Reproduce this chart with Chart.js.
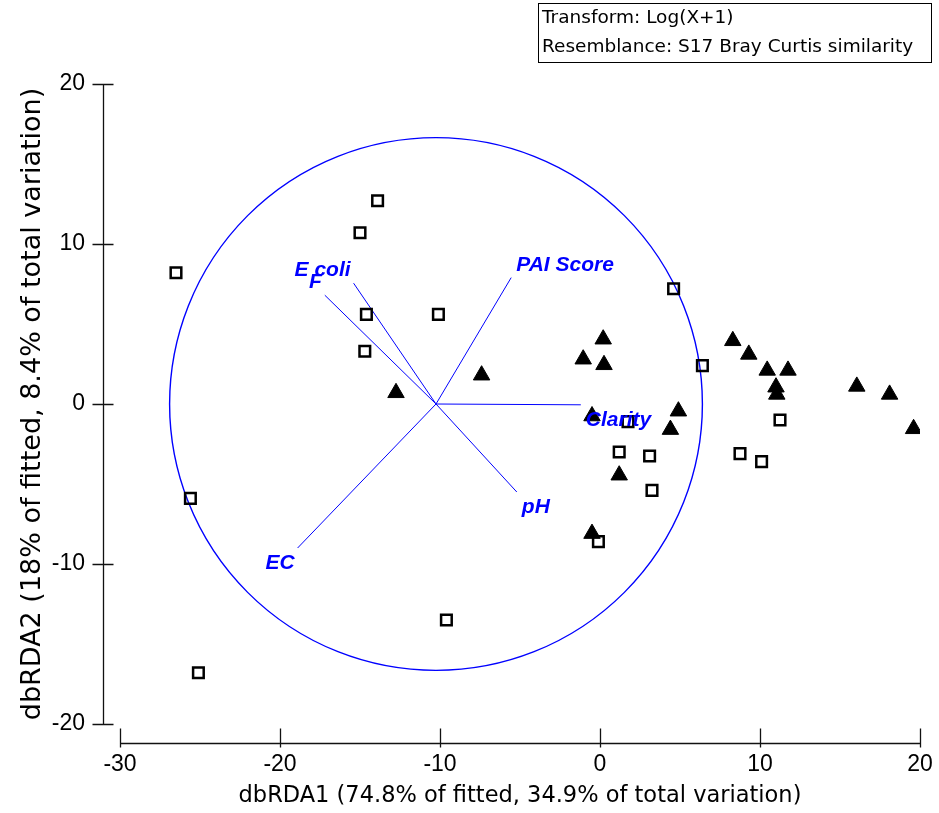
<!DOCTYPE html>
<html>
<head>
<meta charset="utf-8">
<script src="https://cdn.jsdelivr.net/npm/chart.js@4"></script>
<style>
  html, body { margin: 0; padding: 0; background: #fff; }
  #wrap { width: 939px; height: 813px; }
</style>
</head>
<body>
<div id="wrap"><canvas id="myChart" width="939" height="813"></canvas></div>
<script>
"use strict";
// sample scores on dbRDA1 / dbRDA2, open squares
const squareX = [-26.5, -15.0, -13.9, -14.6, -14.7, -10.1, -25.6, -25.1, -9.6, 4.6, 6.4, 1.75, 1.2, 3.1, 3.25, -0.1, 11.25, 8.75, 10.1];
const squareY = [8.2, 10.7, 12.7, 5.6, 3.3, 5.6, -5.9, -16.8, -13.5, 7.2, 2.4, -1.1, -3.0, -3.25, -5.4, -8.6, -1.0, -3.1, -3.6];
// filled triangles
const triangleX = [-12.75, -7.4, -1.05, 0.2, 0.25, -0.5, 4.9, 4.4, 1.2, -0.5, 8.3, 9.3, 10.45, 11.75, 11.0, 11.05, 16.05, 18.1, 19.6];
const triangleY = [0.7, 1.8, 2.8, 4.05, 2.45, -0.75, -0.45, -1.6, -4.45, -8.1, 3.95, 3.1, 2.1, 2.1, 1.05, 0.6, 1.1, 0.6, -1.55];

// predictor vectors
const vectorNames = ["Clarity", "PAI Score", "E coli", "F", "pH", "EC"];
const vectorX = [-1.2, -5.55, -15.4, -17.2, -5.2, -18.9];
const vectorY = [-0.05, 7.9, 7.55, 6.8, -5.5, -9.0];
const vectorOrigin = [-10.25, 0];
const circleRadius = 16.65;

const xTicks = [-30, -20, -10, 0, 10, 20];
const yTicks = [-20, -10, 0, 10, 20];
const xTitle = "dbRDA1 (74.8% of fitted, 34.9% of total variation)";
const yTitle = "dbRDA2 (18% of fitted, 8.4% of total variation)";
const infoLines = ["Transform: Log(X+1)", "Resemblance: S17 Bray Curtis similarity"];

const BLUE = "#0000ff";

function toPoints(xs, ys) {
  return xs.map((v, i) => ({ x: v, y: ys[i] }));
}

const vectorSets = vectorNames.map((name, i) => ({
  label: name,
  data: [{ x: vectorOrigin[0], y: vectorOrigin[1] }, { x: vectorX[i], y: vectorY[i] }],
  showLine: true,
  borderColor: BLUE,
  borderWidth: 1,
  pointRadius: 0
}));

// circle + detached axes + labels
const extras = {
  id: "extras",
  beforeDatasetsDraw(chart) {
    const { ctx, scales } = chart;
    const x = scales.x, y = scales.y;
    const cx = x.getPixelForValue(vectorOrigin[0]);
    const cy = y.getPixelForValue(vectorOrigin[1]);
    const rx = x.getPixelForValue(vectorOrigin[0] + circleRadius) - cx;
    const ry = cy - y.getPixelForValue(vectorOrigin[1] + circleRadius);
    ctx.save();
    ctx.strokeStyle = BLUE;
    ctx.lineWidth = 1.4;
    ctx.beginPath();
    ctx.ellipse(cx, cy, rx, ry, 0, 0, 2 * Math.PI);
    ctx.stroke();
    ctx.restore();
  },
  afterDatasetsDraw(chart) {
    const { ctx, scales } = chart;
    const x = scales.x, y = scales.y;
    ctx.save();
    ctx.fillStyle = BLUE;
    ctx.font = "italic bold 21px 'Liberation Sans', Arial, sans-serif";
    ctx.textBaseline = "alphabetic";
    vectorNames.forEach((name, i) => {
      const dx = vectorX[i] - vectorOrigin[0];
      const dy = vectorY[i] - vectorOrigin[1];
      const px = x.getPixelForValue(vectorX[i]);
      const py = y.getPixelForValue(vectorY[i]);
      ctx.textAlign = dx >= 0 ? "left" : "right";
      ctx.fillText(name, px + (dx >= 0 ? 5 : -3), py + (dy >= 0 ? -7 : 21));
    });
    ctx.restore();
  },
  afterDraw(chart) {
    const { ctx, chartArea, scales } = chart;
    const x = scales.x, y = scales.y;
    const ax = Math.round(chartArea.left - 17) + 0.5;
    const ay = Math.round(chartArea.bottom + 19) + 0.5;
    ctx.save();
    ctx.strokeStyle = "#111";
    ctx.lineWidth = 1.3;
    ctx.beginPath();
    ctx.moveTo(ax, y.getPixelForValue(yTicks[yTicks.length - 1]));
    ctx.lineTo(ax, y.getPixelForValue(yTicks[0]));
    yTicks.forEach(v => {
      const py = Math.round(y.getPixelForValue(v)) + 0.5;
      ctx.moveTo(ax - 11, py);
      ctx.lineTo(ax + 10, py);
    });
    ctx.moveTo(x.getPixelForValue(xTicks[0]), ay);
    ctx.lineTo(x.getPixelForValue(xTicks[xTicks.length - 1]), ay);
    xTicks.forEach(v => {
      const px = Math.round(x.getPixelForValue(v)) + 0.5;
      ctx.moveTo(px, ay - 15);
      ctx.lineTo(px, ay + 4);
    });
    ctx.stroke();

    // info box
    ctx.lineWidth = 1;
    ctx.strokeStyle = "#000";
    ctx.strokeRect(538.5, 3.5, 393, 59);
    ctx.fillStyle = "#000";
    ctx.font = "18.5px 'DejaVu Sans', sans-serif";
    ctx.textAlign = "left";
    ctx.textBaseline = "middle";
    ctx.fillText(infoLines[0], 542, 18);
    ctx.fillText(infoLines[1], 542, 47);
    ctx.restore();
  }
};

const ctx = document.getElementById("myChart").getContext("2d");
const chart = new Chart(ctx, {
  type: "scatter",
  data: {
    datasets: [
      {
        label: "squares",
        data: toPoints(squareX, squareY),
        pointStyle: "rect",
        pointRadius: 7.5,
        borderWidth: 2.5,
        borderColor: "#000",
        backgroundColor: "rgba(0,0,0,0)"
      },
      {
        label: "triangles",
        data: toPoints(triangleX, triangleY),
        pointStyle: "triangle",
        pointRadius: 9.5,
        borderWidth: 1,
        borderColor: "#000",
        backgroundColor: "#000"
      },
      ...vectorSets
    ]
  },
  options: {
    responsive: false,
    animation: false,
    events: [],
    layout: { padding: { left: 0, right: 19, top: 84, bottom: 0 } },
    plugins: { legend: { display: false }, tooltip: { enabled: false } },
    scales: {
      x: {
        type: "linear",
        min: -30,
        max: 20,
        afterBuildTicks: s => { s.ticks = xTicks.map(v => ({ value: v })); },
        afterFit: s => { s.height = 89; },
        grid: { display: false, drawTicks: false, tickLength: 0 },
        border: { display: false },
        ticks: {
          autoSkip: false,
          maxRotation: 0,
          padding: 5,
          color: "#000",
          font: { family: "'Liberation Sans', Arial, sans-serif", size: 23, lineHeight: "72px" }
        },
        title: {
          display: true,
          text: xTitle,
          color: "#000",
          padding: { top: 0, bottom: 3 },
          font: { family: "'DejaVu Sans', sans-serif", size: 22.5 }
        }
      },
      y: {
        type: "linear",
        min: -20,
        max: 20,
        afterBuildTicks: s => { s.ticks = yTicks.map(v => ({ value: v })); },
        afterFit: s => { s.width = 120; },
        grid: { display: false, drawTicks: false, tickLength: 0 },
        border: { display: false },
        ticks: {
          padding: 35,
          color: "#000",
          font: { family: "'Liberation Sans', Arial, sans-serif", size: 23 }
        },
        title: {
          display: true,
          text: yTitle,
          color: "#000",
          padding: { top: 17, bottom: 0 },
          font: { family: "'DejaVu Sans', sans-serif", size: 27 }
        }
      }
    }
  },
  plugins: [extras]
});
</script>
</body>
</html>
